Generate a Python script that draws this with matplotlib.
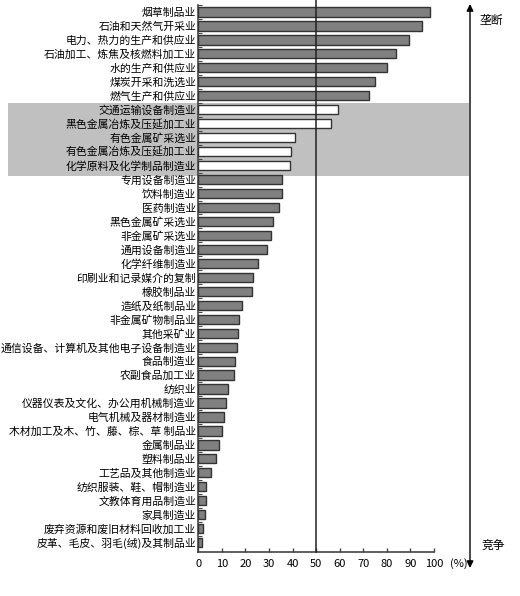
import matplotlib
matplotlib.use("Agg")
import matplotlib.pyplot as plt
import matplotlib.transforms as mtransforms
from matplotlib.patches import Rectangle, FancyArrowPatch
import numpy as np

plt.rcParams['font.family'] = ['Noto Sans CJK SC', 'DejaVu Sans']

categories = [
    "烟草制品业", "石油和天然气开采业", "电力、热力的生产和供应业", "石油加工、炼焦及核燃料加工业",
    "水的生产和供应业", "煤炭开采和洗选业", "燃气生产和供应业", "交通运输设备制造业",
    "黑色金属冶炼及压延加工业", "有色金属矿采选业", "有色金属冶炼及压延加工业", "化学原料及化学制品制造业",
    "专用设备制造业", "饮料制造业", "医药制造业", "黑色金属矿采选业", "非金属矿采选业",
    "通用设备制造业", "化学纤维制造业", "印刷业和记录媒介的复制", "橡胶制品业", "造纸及纸制品业",
    "非金属矿物制品业", "其他采矿业", "通信设备、计算机及其他电子设备制造业", "食品制造业",
    "农副食品加工业", "纺织业", "仪器仪表及文化、办公用机械制造业", "电气机械及器材制造业",
    "木材加工及木、竹、藤、棕、草 制品业", "金属制品业", "塑料制品业", "工艺品及其他制造业",
    "纺织服装、鞋、帽制造业", "文教体育用品制造业", "家具制造业", "废弃资源和废旧材料回收加工业",
    "皮革、毛皮、羽毛(绒)及其制品业",
]
values = [98.3, 94.8, 89.3, 83.9, 80.2, 75.1, 72.6, 59.1, 56.4, 41.2, 39.3, 38.9,
          35.7, 35.4, 34.2, 31.6, 30.7, 29.0, 25.2, 23.3, 22.9, 18.5, 17.4, 17.0,
          16.5, 15.7, 15.3, 12.7, 11.6, 11.0, 9.9, 8.8, 7.6, 5.3, 3.3, 3.3, 2.8, 2.1, 1.4]
highlighted = ["交通运输设备制造业", "黑色金属冶炼及压延加工业", "有色金属矿采选业",
               "有色金属冶炼及压延加工业", "化学原料及化学制品制造业"]
xticks = [0, 10, 20, 30, 40, 50, 60, 70, 80, 90, 100]
threshold = 50
unit_label = "(%)"
label_top = "垄断"
label_bottom = "竞争"

W, H = 520, 596
fig = plt.figure(figsize=(W / 100, H / 100), dpi=100)
ax = fig.add_axes([198.3 / W, 1 - 552.3 / H, (434 - 198.3) / W, (552.3 - 5) / H])
ax.set_facecolor('none')

n = len(categories)
ypos = np.arange(n)
colors = ['white' if c in highlighted else '#808080' for c in categories]
ax.barh(ypos, values, height=0.66, color=colors, edgecolor='#333333', linewidth=1.0, zorder=3)

ax.set_xlim(0, 100)
ax.set_ylim(n - 1 + 0.69, -0.5)

# highlight band
hi_idx = [categories.index(c) for c in highlighted]
trans = mtransforms.blended_transform_factory(fig.transFigure, ax.transData)
y0 = min(hi_idx) - 0.5
y1 = max(hi_idx) + 0.74
ax.add_patch(Rectangle((8 / W, y0), (469 - 8) / W, y1 - y0, transform=trans,
                       facecolor='#c0c0c0', edgecolor='none', zorder=0, clip_on=False))

# threshold line
tl = mtransforms.blended_transform_factory(ax.transData, ax.transAxes)
ax.plot([threshold, threshold], [0, 1 + 5 / 547], transform=tl, color='#222222',
        lw=1.1, clip_on=False, zorder=4)

# spines
for s in ['top', 'right']:
    ax.spines[s].set_visible(False)
for s in ['left', 'bottom']:
    ax.spines[s].set_color('#444444')
    ax.spines[s].set_linewidth(1.2)

ax.set_yticks(ypos)
ax.set_yticklabels(categories, fontsize=7.8)
ax.tick_params(axis='y', which='major', length=0, pad=1.5)
ax.set_yticks(np.arange(n) - 0.5, minor=True)
ax.tick_params(axis='y', which='minor', direction='in', length=3, width=0.8, color='#444444')

ax.set_xticks(xticks)
ax.set_xticklabels([str(t) for t in xticks], fontsize=8)
ax.tick_params(axis='x', direction='in', length=3, width=1, color='#444444', pad=5)
ax.text(107, -11.5 / 547, unit_label, transform=tl, fontsize=8, va='center', ha='left')

# double arrow on right
ax_x = 470 / W
fig.add_artist(FancyArrowPatch((ax_x, 1 - 568 / H), (ax_x, 1 - 4 / H),
               transform=fig.transFigure, arrowstyle='<|-|>', mutation_scale=10,
               color='black', lw=1.0, shrinkA=0, shrinkB=0))
fig.text(480 / W, 1 - 20 / H, label_top, fontsize=8.5, ha='left', va='center')
fig.text(482 / W, 1 - 545 / H, label_bottom, fontsize=8.5, ha='left', va='center')

fig.savefig("out.png", dpi=100)
